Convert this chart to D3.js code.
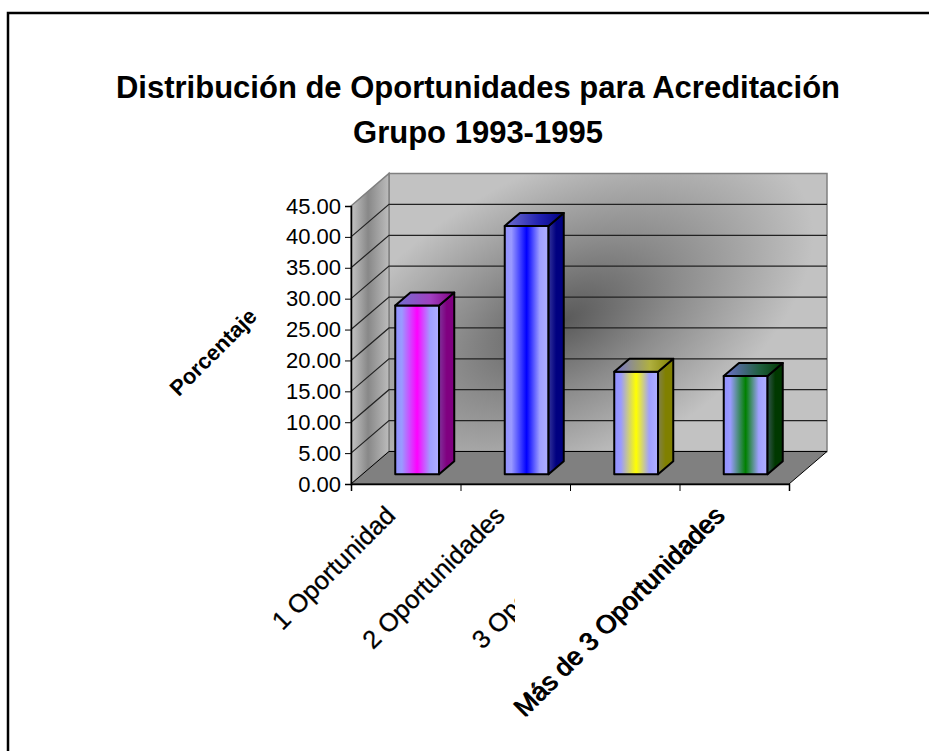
<!DOCTYPE html>
<html>
<head>
<meta charset="utf-8">
<script src="https://cdn.jsdelivr.net/npm/d3@7"></script>
<style>
  html, body { margin: 0; padding: 0; background: #fff; }
  svg { display: block; }
  text { font-family: "Liberation Sans", Arial, sans-serif; }
</style>
</head>
<body>
<div id="chart"></div>
<script>
// data
var categories = ["1 Oportunidad", "2 Oportunidades", "3 Oportunidades", "Más de 3 Oportunidades"];
var values = [27.3, 40.2, 16.6, 15.9];
var yTicks = [0, 5, 10, 15, 20, 25, 30, 35, 40, 45];
var titleLines = ["Distribución de Oportunidades para Acreditación", "Grupo 1993-1995"];
var yTitle = "Porcentaje";
var frontColors = ["#ff00ff", "#0000ff", "#ffff00", "#008000"];
var sideColors = ["#800080", "#000080", "#808000", "#003800"];
var topColors = ["#a040c0", "#2020b0", "#b0b040", "#206040"];

var width = 929, height = 751;
var DX = 38, DY = 32.5; // 3d depth offset
var barD0 = 0.3, barD1 = 0.7;

var svg = d3.select('#chart').append('svg')
  .attr('width', width)
  .attr('height', height);

var defs = svg.append('defs');

var x = d3.scaleBand()
  .domain(categories)
  .range([351, 789])
  .paddingInner(0.6)
  .paddingOuter(0.3);
var xb = d3.scaleLinear().domain([0, categories.length]).range([351, 789]);
var y = d3.scaleLinear().domain([0, 45]).range([484, 206]);

function p(px, py, d) { return [px + DX * d, py - DY * d]; }
function poly(pts) { return 'M' + pts.map(function(q) { return q.join(','); }).join('L') + 'Z'; }

// outer frame
svg.append('rect')
  .attr('x', 8).attr('y', 13)
  .attr('width', 940).attr('height', 760)
  .attr('fill', 'none')
  .attr('stroke', '#000')
  .attr('stroke-width', 2.5);

// title
svg.append('g').selectAll('text')
  .data(titleLines)
  .enter().append('text')
  .attr('x', 478)
  .attr('y', function(d, i) { return 98 + i * 45; })
  .attr('text-anchor', 'middle')
  .attr('font-weight', 'bold')
  .attr('font-size', 31)
  .text(function(d) { return d; });

// gradients for walls
var rg = defs.append('radialGradient')
  .attr('id', 'backWall')
  .attr('gradientUnits', 'userSpaceOnUse')
  .attr('cx', 565).attr('cy', 320).attr('r', 270)
  .attr('gradientTransform', 'translate(565,320) rotate(-28) scale(1,0.55) translate(-565,-320)');
rg.append('stop').attr('offset', 0).attr('stop-color', '#5a5a5a');
rg.append('stop').attr('offset', 0.45).attr('stop-color', '#8c8c8c');
rg.append('stop').attr('offset', 1).attr('stop-color', '#c2c2c2');

var lg = defs.append('linearGradient')
  .attr('id', 'leftWall')
  .attr('x1', 0).attr('x2', 1).attr('y1', 0).attr('y2', 0);
lg.append('stop').attr('offset', 0).attr('stop-color', '#c4c4c4');
lg.append('stop').attr('offset', 0.45).attr('stop-color', '#888');
lg.append('stop').attr('offset', 1).attr('stop-color', '#bcbcbc');

var y0 = y(0), yTop = y(45);

// back wall
svg.append('path')
  .attr('d', poly([p(351, yTop, 1), p(789, yTop, 1), p(789, y0, 1), p(351, y0, 1)]))
  .attr('fill', 'url(#backWall)')
  .attr('stroke', '#808080')
  .attr('stroke-width', 1.5);

// left wall
svg.append('path')
  .attr('d', poly([p(351, yTop, 0), p(351, yTop, 1), p(351, y0, 1), p(351, y0, 0)]))
  .attr('fill', 'url(#leftWall)')
  .attr('stroke', '#808080')
  .attr('stroke-width', 1.5);

// floor
svg.append('path')
  .attr('d', poly([p(351, y0, 0), p(789, y0, 0), p(789, y0, 1), p(351, y0, 1)]))
  .attr('fill', '#808080')
  .attr('stroke', '#000')
  .attr('stroke-width', 1);

// gridlines
var grid = yTicks.filter(function(v) { return v > 0 && v < 45; });
svg.append('g').selectAll('path')
  .data(grid)
  .enter().append('path')
  .attr('d', function(v) {
    var a = p(351, y(v), 0), b = p(351, y(v), 1), c = p(789, y(v), 1);
    return 'M' + a + 'L' + b + 'L' + c;
  })
  .attr('fill', 'none')
  .attr('stroke', '#222')
  .attr('stroke-width', 1.2);

// bars
function gradient(id, stops) {
  var g = defs.append('linearGradient').attr('id', id)
    .attr('x1', 0).attr('x2', 1).attr('y1', 0).attr('y2', 0);
  stops.forEach(function(s) {
    g.append('stop').attr('offset', s[0]).attr('stop-color', s[1]);
  });
}

categories.forEach(function(c, i) {
  var col = frontColors[i];
  gradient('front' + i, [[0, '#9090ff'], [0.15, '#9a9aff'], [0.5, col], [0.8, '#a0a0ff'], [1, '#b0b0ff']]);
  gradient('side' + i, [[0, d3.interpolateRgb(sideColors[i], '#8080c0')(0.4)], [0.5, sideColors[i]], [1, sideColors[i]]]);
  gradient('top' + i, [[0, '#7070d0'], [0.6, topColors[i]], [1, sideColors[i]]]);
});

var bars = svg.append('g').selectAll('g')
  .data(values)
  .enter().append('g');

var bw = x.bandwidth();
bars.append('path')
  .attr('d', function(v, i) {
    var x0 = x(categories[i]), x1 = x0 + bw;
    return poly([p(x0, y0, barD0), p(x1, y0, barD0), p(x1, y(v), barD0), p(x0, y(v), barD0)]);
  })
  .attr('fill', function(v, i) { return 'url(#front' + i + ')'; });
bars.append('path')
  .attr('d', function(v, i) {
    var x1 = x(categories[i]) + bw;
    return poly([p(x1, y0, barD0), p(x1, y0, barD1), p(x1, y(v), barD1), p(x1, y(v), barD0)]);
  })
  .attr('fill', function(v, i) { return 'url(#side' + i + ')'; });
bars.append('path')
  .attr('d', function(v, i) {
    var x0 = x(categories[i]), x1 = x0 + bw;
    return poly([p(x0, y(v), barD0), p(x1, y(v), barD0), p(x1, y(v), barD1), p(x0, y(v), barD1)]);
  })
  .attr('fill', function(v, i) { return 'url(#top' + i + ')'; });
bars.selectAll('path')
  .attr('stroke', '#000')
  .attr('stroke-width', 2)
  .attr('stroke-linejoin', 'round');

// y axis
var yAxis = svg.append('g')
  .attr('transform', 'translate(351,0)')
  .call(d3.axisLeft(y).tickValues(yTicks).tickFormat(d3.format('.2f')).tickSize(6).tickPadding(4));
yAxis.select('.domain').attr('stroke', '#000').attr('stroke-width', 1.5);
yAxis.selectAll('text')
  .attr('font-family', '"Liberation Sans", Arial, sans-serif')
  .attr('font-size', 22)
  .attr('fill', '#000');

// x axis (ticks at category boundaries)
var xAxis = svg.append('g')
  .attr('transform', 'translate(0,' + y0 + ')')
  .call(d3.axisBottom(xb).ticks(categories.length).tickFormat('').tickSize(7));
xAxis.select('.domain').attr('stroke', '#000').attr('stroke-width', 1.5);

// x labels
var labels = svg.append('g');
categories.forEach(function(c, i) {
  var cx = x(c) + bw / 2 - 9, cy = 517;
  if (i === categories.length - 1) {
    labels.append('rect')
      .attr('x', 515).attr('y', 500)
      .attr('width', 222).attr('height', 242)
      .attr('fill', '#fff');
    [0, 1.5].forEach(function(o) {
      labels.append('text')
        .attr('transform', 'translate(' + (cx + o) + ',' + cy + ') rotate(-45)')
        .attr('text-anchor', 'end')
        .attr('font-size', 26)
        .text(c);
    });
  } else {
    labels.append('text')
      .attr('transform', 'translate(' + cx + ',' + cy + ') rotate(-45)')
      .attr('text-anchor', 'end')
      .attr('font-size', 25.5)
      .attr('stroke', '#000')
      .attr('stroke-width', 0.3)
      .text(c);
  }
});

// y title
svg.append('text')
  .attr('transform', 'translate(213,352) rotate(-45)')
  .attr('text-anchor', 'middle')
  .attr('dy', '0.35em')
  .attr('font-weight', 'bold')
  .attr('font-size', 22)
  .text(yTitle);
</script>
</body>
</html>
